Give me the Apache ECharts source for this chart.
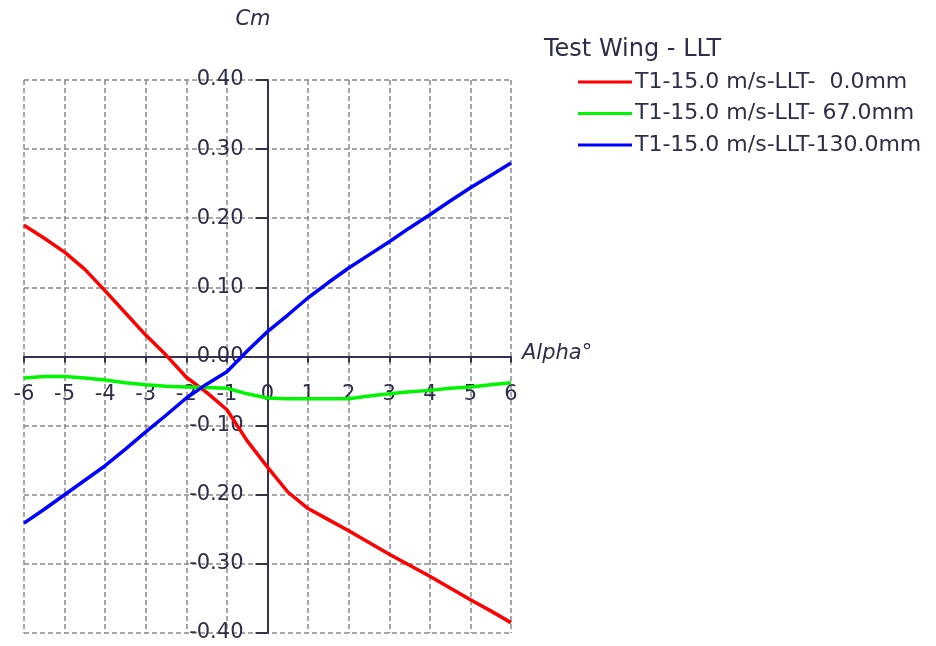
<!DOCTYPE html>
<html>
<head>
<meta charset="utf-8">
<script src="https://cdn.jsdelivr.net/npm/echarts@6/dist/echarts.min.js"></script>
<style>html,body{margin:0;padding:0;background:#fff;}#c{width:936px;height:646px;}</style>
</head>
<body>
<div id="c"></div>
<script>
var alpha = [-6,-5.5,-5,-4.5,-4,-3.5,-3,-2.5,-2,-1.5,-1,-0.5,0,0.5,1,1.5,2,2.5,3,3.5,4,4.5,5,5.5,6];
var cm0mm = [0.190,0.171,0.151,0.126,0.095,0.063,0.031,0.002,-0.030,-0.052,-0.077,-0.122,-0.160,-0.196,-0.220,-0.236,-0.252,-0.269,-0.286,-0.302,-0.318,-0.335,-0.352,-0.368,-0.385];
var cm67mm = [-0.031,-0.029,-0.029,-0.031,-0.034,-0.038,-0.041,-0.043,-0.044,-0.045,-0.046,-0.054,-0.060,-0.061,-0.061,-0.061,-0.061,-0.057,-0.054,-0.051,-0.049,-0.046,-0.044,-0.041,-0.038];
var cm130mm = [-0.241,-0.221,-0.200,-0.179,-0.158,-0.134,-0.109,-0.085,-0.060,-0.040,-0.022,0.008,0.036,0.060,0.085,0.107,0.128,0.147,0.166,0.186,0.205,0.225,0.244,0.262,0.280];
var seriesNames = ['T1-15.0 m/s-LLT-  0.0mm','T1-15.0 m/s-LLT- 67.0mm','T1-15.0 m/s-LLT-130.0mm'];
var legendTitle = 'Test Wing - LLT';
var xName = 'Alpha°';
var yName = 'Cm';

function pairs(xs, ys){ return xs.map(function(x,i){ return [x, ys[i]]; }); }

var textColor = '#2e2e4a';
var font = 'DejaVu Sans';
var W = 936, H = 646;
var gLeft = 24, gRight = 425, gTop = 80, gBottom = 13;
var xMin = -6, xMax = 6, yMin = -0.4, yMax = 0.4;
// place the axes through the origin (x = 0, y = 0) via offsets from the grid edges
var gW = W - gLeft - gRight, gH = H - gTop - gBottom;
var xAxisOffset = -gH * (0 - yMin) / (yMax - yMin);
var yAxisOffset = -gW * (0 - xMin) / (xMax - xMin);

var chart = echarts.init(document.getElementById('c'), null, {renderer:'canvas'});
var colors = ['#ff0000','#00f500','#0000ff'];
var datas = [cm0mm, cm67mm, cm130mm];

chart.setOption({
  animation: false,
  backgroundColor: '#ffffff',
  title: {
    text: legendTitle, left: 544, top: 38, padding: 0,
    textStyle: {fontFamily: font, fontSize: 24, fontWeight: 'normal', color: textColor}
  },
  legend: {
    orient: 'vertical', left: 578, top: 71, padding: 0,
    itemWidth: 54, itemHeight: 3, itemGap: 9.5, icon: 'rect',
    textStyle: {fontFamily: font, fontSize: 22, color: textColor, lineHeight: 22, padding: [0,0,0,-2]},
    data: seriesNames
  },
  grid: {left: gLeft, right: gRight, top: gTop, bottom: gBottom, outerBoundsMode: 'none', containLabel: false},
  xAxis: {
    type: 'value', min: xMin, max: xMax, interval: 1, position: 'bottom', offset: xAxisOffset,
    name: xName, nameLocation: 'end', nameGap: 11,
    nameTextStyle: {fontFamily: font, fontSize: 21, fontStyle: 'italic', color: textColor, verticalAlign: 'bottom', padding: [0,0,-8,0]},
    axisLine: {show: true, onZero: false, lineStyle: {color: '#33334d', width: 2}},
    axisTick: {show: true, length: 6, lineStyle: {color: '#33334d', width: 2}},
    axisLabel: {fontFamily: font, fontSize: 21, color: textColor, margin: 28,
      formatter: function(v){ return String(v); }},
    splitLine: {show: true, lineStyle: {color: '#8a8a8a', width: 1.5, type: [5,3]}}
  },
  yAxis: {
    type: 'value', min: yMin, max: yMax, interval: 0.1, position: 'left', offset: yAxisOffset,
    name: yName, nameLocation: 'end', nameGap: 50,
    nameTextStyle: {fontFamily: font, fontSize: 21, fontStyle: 'italic', color: textColor, align: 'right', padding: [0,-3,0,0]},
    axisLine: {show: true, onZero: false, lineStyle: {color: '#33334d', width: 2}},
    axisTick: {show: true, length: 12, lineStyle: {color: '#33334d', width: 2}},
    axisLabel: {fontFamily: font, fontSize: 21, color: textColor, margin: 24,
      formatter: function(v){ var s = v.toFixed(2); return s === '-0.00' ? '0.00' : s; }},
    splitLine: {show: true, lineStyle: {color: '#8a8a8a', width: 1.5, type: [5,3]}}
  },
  series: seriesNames.map(function(n, i){
    return {
      name: n, type: 'line', data: pairs(alpha, datas[i]),
      symbol: 'none', smooth: false, color: colors[i],
      lineStyle: {color: colors[i], width: 3.5}, z: 3 + i
    };
  })
});
</script>
</body>
</html>
